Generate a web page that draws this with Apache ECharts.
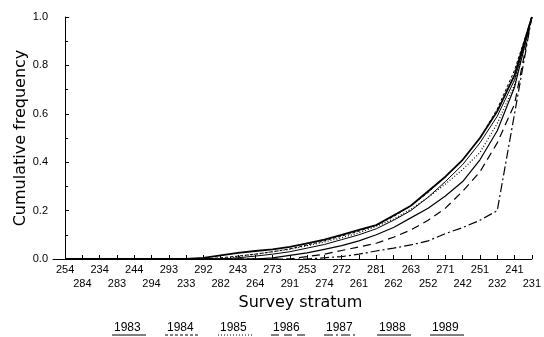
<!DOCTYPE html>
<html>
<head>
<meta charset="utf-8">
<script src="https://cdn.jsdelivr.net/npm/echarts@6/dist/echarts.min.js"></script>
<style>
html,body{margin:0;padding:0;background:#fff;}
#main{width:544px;height:337px;}
</style>
</head>
<body>
<div id="main"></div>
<script>
// survey strata, in plotted order (labels alternate on two rows)
var strata = ['254','284','234','283','244','294','293','233','292','282','243','264','273','291',
	'253','274','272','261','281','262','263','252','271','242','251','232','241','231'];
var years = ['1983','1984','1985','1986','1987','1988','1989'];

var f1983 = [0,0,0,0,0,0,0,0,0,0,0.005,0.012,0.02,0.03,0.045,0.06,0.08,0.1,0.125,0.16,0.2,0.255,0.32,0.39,0.48,0.59,0.74,1];
var f1984 = [0,0,0,0,0,0,0,0,0,0.005,0.012,0.02,0.03,0.042,0.058,0.075,0.095,0.115,0.14,0.175,0.22,0.275,0.34,0.41,0.5,0.62,0.78,1];
var f1985 = [0,0,0,0,0,0,0,0,0,0,0.01,0.02,0.03,0.04,0.055,0.07,0.088,0.108,0.135,0.165,0.205,0.255,0.31,0.37,0.44,0.56,0.72,1];
var f1986 = [0,0,0,0,0,0,0,0,0,0,0,0,0,0,0.01,0.02,0.035,0.05,0.065,0.09,0.12,0.16,0.21,0.28,0.36,0.48,0.64,1];
var f1987 = [0,0,0,0,0,0,0,0,0,0,0,0,0,0,0,0.005,0.01,0.02,0.033,0.045,0.058,0.075,0.105,0.13,0.16,0.2,0.6,1];
var f1988 = [0,0,0,0,0,0,0,0,0.005,0.015,0.025,0.033,0.04,0.05,0.065,0.08,0.1,0.12,0.14,0.18,0.22,0.28,0.34,0.41,0.5,0.61,0.76,1];
var f1989 = [0,0,0,0,0,0,0,0,0,0,0,0,0.005,0.015,0.025,0.04,0.055,0.075,0.1,0.13,0.17,0.21,0.26,0.32,0.41,0.53,0.71,1];

var allData = [f1983, f1984, f1985, f1986, f1987, f1988, f1989];
var dashes = [[], [3, 2], [1, 2], [8, 5], [9, 3, 2, 3], [], []];
var widths = [1, 1, 1.2, 1.2, 1.2, 1.8, 1.2];

var chart = echarts.init(document.getElementById('main'));
var idx = [], evens = [], odds = [];
for (var i = 0; i < strata.length; i++) {
	idx.push(i);
	if (i % 2) odds.push(i); else evens.push(i);
}

var series = [];
for (var k = 0; k < years.length; k++) {
	var pts = [];
	for (var j = 0; j < strata.length; j++) pts.push([j, allData[k][j]]);
	series.push({
		name: years[k],
		type: 'line',
		symbol: 'none',
		silent: true,
		z: 1,
		xAxisIndex: 0,
		lineStyle: {color: '#000', width: widths[k], type: dashes[k].length ? dashes[k] : 'solid'},
		data: pts
	});
}

// legend drawn as text with line sample underneath
var graphic = [];
for (var g = 0; g < years.length; g++) {
	var cx = 129 + 53 * g;
	graphic.push({
		type: 'text', left: cx - 15, top: 322,
		style: {text: years[g], font: '12px "Liberation Sans"', fill: '#000'}
	});
	graphic.push({
		type: 'line',
		shape: {x1: cx - 17, y1: 335, x2: cx + 17, y2: 335},
		style: {stroke: '#000', lineWidth: 1, lineDash: dashes[g].length ? dashes[g] : null}
	});
}

var labelStyle = {
	margin: 5,
	fontFamily: 'Liberation Sans',
	fontSize: 11,
	color: '#000',
	showMinLabel: true,
	showMaxLabel: true,
	formatter: function(v) { return strata[v]; }
};

var option = {
	animation: false,
	backgroundColor: '#fff',
	grid: {left: 53, right: 12, top: 17, bottom: 78},
	xAxis: [{
		type: 'value',
		min: -0.7,
		max: 27,
		z: 5,
		name: 'Survey stratum',
		nameLocation: 'middle',
		nameGap: 36,
		nameMoveOverlap: false,
		nameTextStyle: {fontFamily: 'DejaVu Sans', fontSize: 16, color: '#000', padding: [0, 0, 0, 16]},
		axisLine: {lineStyle: {color: '#000', width: 1}},
		axisTick: {show: true, inside: true, length: 4, customValues: idx, lineStyle: {color: '#000'}},
		axisLabel: Object.assign({customValues: evens}, labelStyle),
		splitLine: {show: false}
	}, {
		// second row of stratum labels
		type: 'value',
		position: 'bottom',
		offset: 14,
		min: -0.7,
		max: 27,
		axisLine: {show: false},
		axisTick: {show: false},
		axisLabel: Object.assign({customValues: odds}, labelStyle),
		splitLine: {show: false}
	}],
	yAxis: {
		type: 'value',
		min: 0,
		max: 1,
		interval: 0.2,
		z: 5,
		name: 'Cumulative frequency',
		nameLocation: 'middle',
		nameGap: 24,
		nameMoveOverlap: false,
		nameTextStyle: {fontFamily: 'DejaVu Sans', fontSize: 16, color: '#000'},
		axisLine: {show: true, lineStyle: {color: '#000', width: 1}},
		axisTick: {show: true, inside: true, length: 4, lineStyle: {color: '#000'}},
		minorTick: {show: true, splitNumber: 2, length: 3, lineStyle: {color: '#000'}},
		axisLabel: {
			margin: 5,
			fontFamily: 'Liberation Sans',
			fontSize: 11,
			color: '#000',
			formatter: function(v) { return v.toFixed(1); }
		},
		splitLine: {show: false}
	},
	graphic: graphic,
	series: series
};
chart.setOption(option);
</script>
</body>
</html>
